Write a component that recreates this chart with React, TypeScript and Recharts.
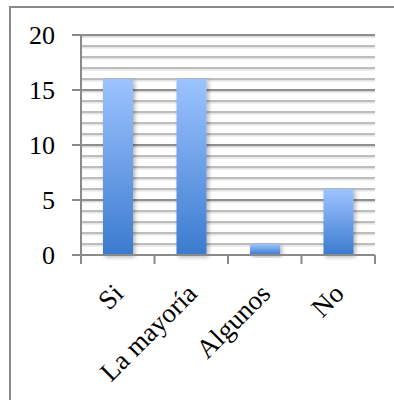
import React from "react";
import { BarChart, Bar, XAxis, YAxis, CartesianGrid } from "recharts";

const categories = ["Si", "La mayoría", "Algunos", "No"];
const counts = [16, 16, 1, 6];
const yTicks = [0, 5, 10, 15, 20];
const minorGrid = [1, 2, 3, 4, 6, 7, 8, 9, 11, 12, 13, 14, 16, 17, 18, 19];

const data = categories.map((name, i) => ({ name, value: counts[i] }));

const FONT = '"Liberation Serif", "DejaVu Serif", serif';
const AXIS = "#8a8a8a";

// grid line with a soft shadow line just under it
const shadowLine = (color: string, shadow: string, width: number) => (props: any) => {
    const { x1, x2, y1, y2, key } = props;
    return (
        <g key={key}>
            <line x1={x1} x2={x2} y1={y1 + 1.5} y2={y2 + 1.5} stroke={shadow} strokeWidth={width} />
            <line x1={x1} x2={x2} y1={y1} y2={y2} stroke={color} strokeWidth={width} />
        </g>
    );
};

// rotated category label + tick marks on the category boundaries
const CategoryTick = (props: any) => {
    const { x, y, payload, index, width } = props;
    const band = width / categories.length;
    const axisY = y - 34;
    const left = x - band / 2;
    return (
        <g>
            <line x1={left} x2={left} y1={axisY} y2={axisY + 9} stroke={AXIS} strokeWidth={2} />
            {index === categories.length - 1 && (
                <line x1={left + band} x2={left + band} y1={axisY} y2={axisY + 9} stroke={AXIS} strokeWidth={2} />
            )}
            <text
                x={x + 1}
                y={y}
                dy="0.33em"
                textAnchor="end"
                transform={`rotate(-45, ${x + 1}, ${y})`}
                fontFamily={FONT}
                fontSize={27}
                fill="#000"
            >
                {payload.value}
            </text>
        </g>
    );
};

const ShadowBar = (props: any) => {
    const { x, y, width, height } = props;
    return (
        <rect x={x} y={y} width={width} height={height} fill="url(#barFill)" filter="url(#barShadow)" />
    );
};

export default function App() {
    return (
        <div style={{ position: "absolute", left: 0, top: 0, width: 394, height: 400, overflow: "hidden", background: "#fff" }}>
            <div
                style={{
                    position: "absolute",
                    left: 9,
                    top: 6,
                    width: 420,
                    height: 420,
                    borderLeft: `2px solid ${AXIS}`,
                    borderTop: `2px solid ${AXIS}`,
                }}
            />
            <div style={{ position: "absolute", left: 0, top: 0 }}>
                <BarChart
                    width={394}
                    height={400}
                    data={data}
                    margin={{ top: 35, right: 19, left: 0, bottom: 10 }}
                    barCategoryGap={0}
                >
                    <defs>
                        <linearGradient id="barFill" x1="0" y1="0" x2="0" y2="1">
                            <stop offset="0%" stopColor="#9dc3ff" />
                            <stop offset="100%" stopColor="#3b7bcf" />
                        </linearGradient>
                        <filter id="barShadow" x="-30%" y="-10%" width="160%" height="130%">
                            <feDropShadow dx="2" dy="2" stdDeviation="2" floodColor="#000" floodOpacity="0.3" />
                        </filter>
                    </defs>
                    <CartesianGrid
                        vertical={false}
                        horizontalValues={minorGrid}
                        horizontal={shadowLine("#bdbdbd", "#e4e4e4", 2)}
                    />
                    <CartesianGrid
                        vertical={false}
                        horizontalValues={yTicks.filter((t) => t > 0)}
                        horizontal={shadowLine("#8f8f8f", "#d8d8d8", 2)}
                    />
                    <XAxis
                        dataKey="name"
                        height={135}
                        axisLine={{ stroke: AXIS, strokeWidth: 2 }}
                        tickLine={false}
                        tickSize={0}
                        tickMargin={34}
                        interval={0}
                        tick={<CategoryTick />}
                    />
                    <YAxis
                        width={81}
                        domain={[0, 20]}
                        ticks={yTicks}
                        interval={0}
                        axisLine={{ stroke: AXIS, strokeWidth: 2 }}
                        tickLine={{ stroke: AXIS, strokeWidth: 2 }}
                        tickSize={9}
                        tickMargin={17}
                        tick={{ fill: "#000", fontSize: 26, fontFamily: FONT }}
                    />
                    <Bar dataKey="value" barSize={30} shape={<ShadowBar />} isAnimationActive={false} />
                </BarChart>
            </div>
        </div>
    );
}
